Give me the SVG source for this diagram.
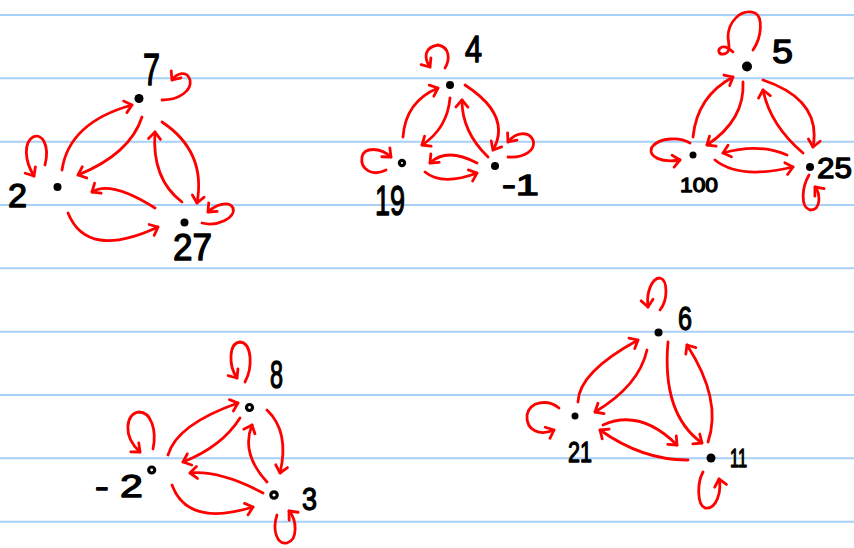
<svg xmlns="http://www.w3.org/2000/svg" width="854" height="548" viewBox="0 0 854 548">
<style>
.rule{stroke:#a9d0f7;stroke-width:2}
.e{fill:none;stroke:#ff0000;stroke-width:2.8;stroke-linecap:round;stroke-linejoin:round}
.a{marker-end:url(#arr)}
.dot{fill:#000}
.ring{fill:#fff;stroke:#000;stroke-width:3.2}
.lbl{font-family:"Liberation Sans","DejaVu Sans",sans-serif;fill:#000;stroke:#000;stroke-width:1.3;stroke-linejoin:round}
</style>
<defs>
<marker id="arr" markerUnits="userSpaceOnUse" markerWidth="20" markerHeight="20" viewBox="-10 -10 20 20" refX="0" refY="0" orient="auto">
<path d="M-7,-6 L0,0 L-7,6" fill="none" stroke="#ff0000" stroke-width="2.8" stroke-linecap="round" stroke-linejoin="round"/>
</marker>
</defs>
<rect width="854" height="548" fill="#fff"/>
<g id="rules">
<line class="rule" x1="0" y1="15" x2="854" y2="15"/>
<line class="rule" x1="0" y1="78.3" x2="854" y2="78.3"/>
<line class="rule" x1="0" y1="141.7" x2="854" y2="141.7"/>
<line class="rule" x1="0" y1="205" x2="854" y2="205"/>
<line class="rule" x1="0" y1="268.3" x2="854" y2="268.3"/>
<line class="rule" x1="0" y1="331.7" x2="854" y2="331.7"/>
<line class="rule" x1="0" y1="395" x2="854" y2="395"/>
<line class="rule" x1="0" y1="458.3" x2="854" y2="458.3"/>
<line class="rule" x1="0" y1="521.7" x2="854" y2="521.7"/>
</g>
<g id="connectors">
<!-- graph 1 -->
<path class="e a" d="M62,170 Q69,122.5 132,105"/>
<path class="e a" d="M142,117 Q130,154 78,175"/>
<path class="e a" d="M162,122 Q206.5,151.5 197,203"/>
<path class="e a" d="M182,202 Q151.5,179 155,132"/>
<path class="e a" d="M155,208 Q110.5,180 92,192"/>
<path class="e a" d="M68,213 Q87,260 158,227"/>
<path class="e a" d="M162,100 C180,100 192,90 190,80 C187,70 177,73 172,80"/>
<path class="e a" d="M45,165 C50,145 42,133 33,137 C24,142 24,160 34,176"/>
<path class="e a" d="M202,223 C217,227 236,218 233,208 C229,200 215,205 208,212"/>
<!-- graph 2 -->
<path class="e a" d="M403,137 Q405.5,101.5 438,88"/>
<path class="e a" d="M450,98 Q447.3,128.5 422,145"/>
<path class="e a" d="M465,85 Q512.3,115.8 493,150"/>
<path class="e a" d="M488,157 Q461.7,131.5 462,100"/>
<path class="e a" d="M477,163 Q446.5,147 430,163"/>
<path class="e a" d="M425,172 Q442.3,186.2 477,173"/>
<path class="e a" d="M445,68 C450,60 450,47 438,45 C425,47 423,57 430,67"/>
<path class="e a" d="M386,170 C372,177 360,169 362,157 C364,147 380,147 391,157"/>
<path class="e a" d="M508,157 C525,158 536,150 533,140 C528,130 515,133 508,142"/>
<!-- graph 3 -->
<path class="e a" d="M693,137 Q697,96.3 733,77"/>
<path class="e a" d="M743,82 Q745,119.8 707,145"/>
<path class="e a" d="M763,80 Q822,99.8 813,147"/>
<path class="e a" d="M803,153 Q770.3,125.2 763,90"/>
<path class="e a" d="M787,155 Q758.3,142.7 723,153"/>
<path class="e a" d="M715,160 Q739.3,179.8 793,167"/>
<path class="e" d="M753,50 C762,37 763,17 755,13 C740,8 728,23 728,37 C729,47 731,52 724,54 C718,55 717,49 722,47 C726,46 730,49 733,52"/>
<path class="e a" d="M690,143 C680,137 660,137 652,147 C647,157 662,163 680,160"/>
<path class="e a" d="M809,175 C802,187 800,207 810,210 C822,210 820,193 815,187"/>
<!-- graph 4 -->
<path class="e a" d="M168,455 Q177,424.3 238,403"/>
<path class="e a" d="M240,418 Q221.8,446.7 183,462"/>
<path class="e a" d="M267,410 Q289.8,431.8 280,473"/>
<path class="e a" d="M267,482 Q240.5,453.2 252,425"/>
<path class="e a" d="M263,493 Q220.2,470.3 190,473"/>
<path class="e a" d="M172,485 Q187.5,527.3 253,507"/>
<path class="e a" d="M245,382 C253,367 252,343 240,342 C229,343 228,365 237,378"/>
<path class="e a" d="M153,449 C157,430 151,412 139,412 C126,413 122,436 140,452"/>
<path class="e a" d="M277,515 C272,530 277,545 287,543 C298,540 297,520 289,511"/>
<!-- graph 5 -->
<path class="e a" d="M578,402 Q578.7,372.3 638,340"/>
<path class="e a" d="M647,350 Q639,385.7 595,412"/>
<path class="e a" d="M668,342 Q661.7,414.2 702,443"/>
<path class="e a" d="M708,442 Q722.5,399.8 687,345"/>
<path class="e a" d="M603,425 Q640,408.3 677,445"/>
<path class="e a" d="M688,460 Q642.7,460.3 600,430"/>
<path class="e a" d="M660,310 C668,300 668,280 660,278 C652,278 646,292 648,307"/>
<path class="e a" d="M559,408 C548,399 530,401 527,415 C526,431 540,436 554,430"/>
<path class="e a" d="M703,472 C697,483 697,505 705,508 C716,510 722,492 719,479"/>
</g>
<g id="n7"><circle class="dot" cx="139" cy="98.5" r="4.5"/><text class="lbl" x="143" y="85" font-size="44" textLength="17" lengthAdjust="spacingAndGlyphs">7</text></g>
<g id="n2"><circle class="dot" cx="57.5" cy="187" r="4"/><text class="lbl" x="8" y="207" font-size="33" textLength="19" lengthAdjust="spacingAndGlyphs">2</text></g>
<g id="n27"><circle class="dot" cx="184.5" cy="222.5" r="4"/><text class="lbl" x="173" y="260" font-size="36" textLength="39" lengthAdjust="spacingAndGlyphs">27</text></g>
<g id="n4"><circle class="dot" cx="450" cy="85" r="4"/><text class="lbl" x="465" y="62" font-size="36" textLength="17" lengthAdjust="spacingAndGlyphs">4</text></g>
<g id="n19"><circle class="ring" cx="402" cy="163" r="2.6"/><text class="lbl" x="375" y="215" font-size="42" textLength="30" lengthAdjust="spacingAndGlyphs">19</text></g>
<g id="nm1"><circle class="dot" cx="495" cy="166" r="4"/><text class="lbl" x="502" y="195" font-size="30" textLength="37" lengthAdjust="spacingAndGlyphs">-1</text></g>
<g id="n5"><circle class="dot" cx="747" cy="66.5" r="5"/><text class="lbl" x="772" y="63" font-size="34" textLength="21" lengthAdjust="spacingAndGlyphs">5</text></g>
<g id="n100"><circle class="dot" cx="693" cy="155" r="3.5"/><text class="lbl" x="680" y="192" font-size="21" textLength="38" lengthAdjust="spacingAndGlyphs">100</text></g>
<g id="n25"><circle class="dot" cx="810" cy="167" r="4"/><text class="lbl" x="817" y="178" font-size="29" textLength="35" lengthAdjust="spacingAndGlyphs">25</text></g>
<g id="n8"><circle class="ring" cx="249.5" cy="407.5" r="3"/><text class="lbl" x="270" y="388" font-size="38" textLength="13" lengthAdjust="spacingAndGlyphs">8</text></g>
<g id="nm2"><circle class="ring" cx="151.7" cy="470" r="3"/><text class="lbl" x="95" y="497" font-size="32" textLength="48" lengthAdjust="spacingAndGlyphs">- 2</text></g>
<g id="n3"><circle class="ring" cx="274" cy="495" r="3.2"/><text class="lbl" x="302" y="510" font-size="32" textLength="15" lengthAdjust="spacingAndGlyphs">3</text></g>
<g id="n6"><circle class="dot" cx="658.5" cy="332.5" r="4"/><text class="lbl" x="678" y="330" font-size="34" textLength="14" lengthAdjust="spacingAndGlyphs">6</text></g>
<g id="n21"><circle class="dot" cx="575" cy="416" r="3.5"/><text class="lbl" x="568" y="462" font-size="30" textLength="24" lengthAdjust="spacingAndGlyphs">21</text></g>
<g id="n11"><circle class="dot" cx="711" cy="458" r="4.5"/><text class="lbl" x="730" y="467" font-size="26" textLength="17" lengthAdjust="spacingAndGlyphs">11</text></g>
</svg>
